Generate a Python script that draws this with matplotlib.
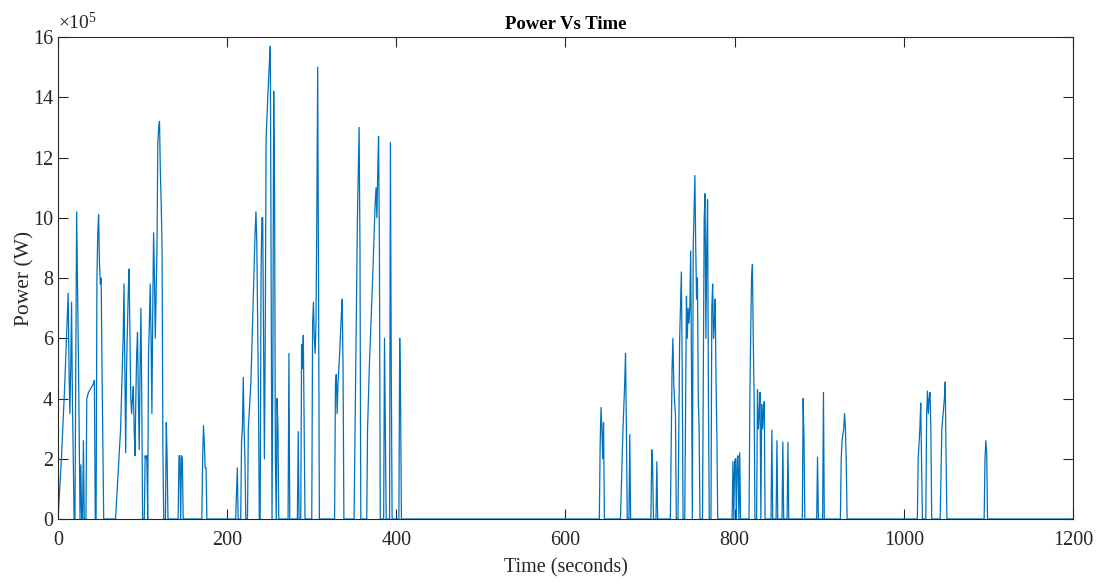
import matplotlib
matplotlib.use("Agg")
import matplotlib.pyplot as plt
from matplotlib.ticker import FuncFormatter

plt.rcParams['font.family'] = ['Liberation Serif', 'DejaVu Serif']
plt.rcParams['mathtext.fontset'] = 'custom'
plt.rcParams['mathtext.rm'] = 'Liberation Serif'

# (time in s, power in 1e5 W)
seg1 = [(0, 0), (2, 1.0), (4, 2.0), (8, 4.5), (12, 7.5), (13, 5.0), (14, 3.5), (15, 5.0),
        (16, 7.2), (17, 4.0), (18, 2.0), (19, 0), (20, 0), (21, 5.0), (22, 10.2), (23, 8.0),
        (24, 5.6), (25, 3.0), (26, 0), (27, 1.8), (28, 0), (29, 0), (30, 2.6), (31, 0),
        (33, 0), (34, 4.0), (36, 4.2), (38, 4.3), (40, 4.4), (42, 4.5), (43, 4.6), (44, 0),
        (45, 0), (46, 8.0), (47, 9.5), (48, 10.1), (49, 8.5), (50, 7.8), (51, 8.0), (52, 5.0),
        (53, 2.5), (54, 0), (68, 0), (70, 1.0), (74, 3.0), (77, 6.0), (78, 7.8), (79, 5.0),
        (80, 2.2), (81, 5.0), (83, 7.5), (84, 8.3), (85, 6.0), (86, 4.0), (87, 3.5), (88, 4.0),
        (89, 4.4), (90, 3.0), (91, 2.1), (92, 4.0), (93, 5.5), (94, 6.2), (95, 4.0), (96, 2.3),
        (97, 5.0), (98, 7.0), (99, 4.0), (100, 0), (102, 0), (103, 2.1), (104, 2.0), (105, 2.1),
        (106, 0), (107, 5.5), (108, 6.5), (109, 7.8), (110, 6.0), (111, 3.5), (112, 7.0),
        (113, 9.5), (114, 8.0), (115, 6.0), (117, 9.0), (118, 12.5), (119, 13.0), (120, 13.2),
        (121, 11.5), (122, 10.5), (123, 9.0), (124, 2.2), (125, 0), (127, 0), (128, 3.2),
        (129, 2.0), (130, 0), (142, 0), (143, 2.1), (144, 2.1), (145, 0), (146, 2.1), (147, 2.0),
        (148, 0), (170, 0), (171, 2.0), (172, 3.1), (173, 2.5), (174, 1.7), (175, 1.7), (176, 0)]

seg2 = [(210, 0), (212, 1.7), (213, 0), (216, 0), (217, 2.6), (218, 3.0), (219, 4.7), (220, 3.0),
        (221, 2.0), (222, 0), (224, 0), (225, 3.0), (226, 3.5), (227, 4.0), (228, 4.5), (229, 5.5),
        (231, 7.5), (233, 9.5), (234, 10.2), (235, 9.2), (236, 6.5), (237, 4.0), (238, 0), (239, 0),
        (240, 8.0), (241, 10.0), (242, 10.0), (243, 6.0), (244, 2.0), (245, 6.0), (246, 12.6),
        (248, 14.0), (250, 15.2), (251, 15.7), (252, 8.0), (253, 0), (254, 5.0), (255, 14.2),
        (256, 11.0), (257, 2.0), (258, 0), (259, 4.0), (260, 3.0), (261, 0), (272, 0), (273, 5.5),
        (274, 0), (283, 0), (284, 2.9), (285, 0), (287, 0), (288, 5.8), (289, 5.0), (290, 6.1),
        (291, 3.0), (292, 0), (300, 0), (301, 6.5), (302, 7.2), (303, 6.0), (304, 5.5), (305, 6.5),
        (306, 10.0), (307, 15.0), (308, 8.0), (309, 0), (327, 0), (328, 4.5), (329, 4.8), (330, 3.5),
        (331, 4.5), (333, 5.5), (335, 6.8), (336, 7.3), (337, 5.0), (338, 0), (350, 0), (352, 5.0),
        (354, 10.0), (356, 13.0), (357, 9.0), (358, 0), (365, 0), (366, 3.0), (368, 5.0), (372, 8.0),
        (375, 10.5), (376, 11.0), (377, 10.0), (378, 11.5), (379, 12.7), (380, 9.0), (381, 0),
        (385, 0), (386, 6.0), (387, 3.0), (388, 0), (392, 0), (393, 12.5), (394, 5.0), (395, 0),
        (403, 0), (404, 6.0), (405, 4.0), (406, 0)]

seg3 = [(640, 0), (641, 2.5), (642, 3.7), (643, 3.0), (644, 2.0), (645, 3.2), (646, 0), (665, 0),
        (668, 3.0), (670, 4.5), (671, 5.5), (672, 3.0), (673, 0), (675, 0), (676, 2.8), (677, 0),
        (701, 0), (702, 2.3), (703, 1.8), (704, 0), (707, 0), (708, 1.9), (709, 0), (724, 0),
        (726, 5.0), (727, 6.0), (728, 4.5), (729, 3.9), (730, 3.5), (731, 0), (733, 0), (735, 6.0),
        (737, 8.2), (738, 5.0), (739, 0), (741, 0), (743, 7.4), (744, 6.0), (745, 7.0), (746, 6.5),
        (747, 7.0), (748, 8.9), (749, 5.0), (750, 0), (751, 9.0), (753, 11.4), (754, 9.0),
        (755, 7.3), (756, 8.0), (757, 4.0), (758, 3.0), (759, 0), (762, 0), (764, 10.0), (765, 10.8),
        (766, 6.0), (767, 9.0), (768, 10.6), (769, 4.0), (770, 0), (772, 0), (773, 7.0), (774, 7.8),
        (775, 6.0), (776, 6.5), (777, 7.3), (778, 4.5), (779, 2.8), (780, 0), (797, 0), (798, 1.9),
        (799, 0), (800, 1.9), (801, 2.0), (802, 0), (803, 2.0), (804, 2.1), (805, 0), (806, 2.2),
        (807, 0), (817, 0), (818, 4.0), (819, 6.2), (820, 8.0), (821, 8.45), (822, 6.0), (823, 4.1),
        (824, 0), (826, 0), (827, 4.3), (828, 3.0), (829, 3.5), (830, 4.2), (831, 0), (832, 3.8),
        (833, 3.0), (834, 3.5), (835, 3.9), (836, 0), (843, 0), (844, 2.95), (845, 0), (849, 0),
        (850, 2.6), (851, 0), (856, 0), (857, 2.55), (858, 0), (862, 0), (863, 2.55), (864, 0),
        (880, 0), (881, 4.0), (882, 2.6), (883, 0), (897, 0), (898, 2.05), (899, 0), (904, 0),
        (905, 4.2), (906, 0), (925, 0), (926, 2.0), (927, 2.6), (929, 3.0), (930, 3.5), (931, 3.0),
        (932, 1.8), (933, 0)]

seg4 = [(1016, 0), (1017, 2.0), (1019, 3.0), (1020, 3.85), (1021, 2.0), (1022, 0), (1026, 0),
        (1027, 3.5), (1028, 4.25), (1029, 3.5), (1030, 4.0), (1031, 4.2), (1032, 3.0), (1033, 0),
        (1043, 0), (1045, 3.0), (1048, 4.0), (1049, 4.55), (1050, 2.0), (1051, 0), (1095, 0),
        (1096, 2.0), (1097, 2.6), (1098, 2.2), (1099, 0), (1200, 0)]

x_ticks = [0, 200, 400, 600, 800, 1000, 1200]
y_ticks = [0, 2, 4, 6, 8, 10, 12, 14, 16]

pairs = seg1 + seg2 + seg3 + seg4
time = [a for a, b in pairs]
power = [b * 1e5 for a, b in pairs]

fig = plt.figure(figsize=(10.99, 5.84), dpi=100)
ax = fig.add_axes([0.0528, 0.1113, 0.9235, 0.8253])
ax.plot(time, power, color='#0072BD', lw=0.9)

ax.set_xlim(0, 1200)
ax.set_ylim(0, 16e5)
ax.set_xticks(x_ticks)
ax.set_yticks([v * 1e5 for v in y_ticks])
ax.yaxis.set_major_formatter(FuncFormatter(lambda v, pos: '%d' % round(v / 1e5)))

txt = '#262626'
ax.tick_params(direction='in', length=7, width=0.8, top=True, right=True,
               labelsize=14.5, colors=txt)
ax.tick_params(axis='x', pad=8.5)
ax.tick_params(axis='y', pad=3.5)
for s in ax.spines.values():
    s.set_color(txt)
    s.set_linewidth(0.8)

ax.text(0.0, 1.008, r'$\mathregular{\times10^5}$', transform=ax.transAxes,
        fontsize=14, color=txt, va='bottom', ha='left')
ax.set_title('Power Vs Time', fontsize=13.5, fontweight='bold', color='black', pad=6)
ax.set_xlabel('Time (seconds)', fontsize=14.5, color=txt, labelpad=6)
ax.set_ylabel('Power (W)', fontsize=15.5, color=txt, labelpad=-1)

fig.savefig('out.png', dpi=100)
